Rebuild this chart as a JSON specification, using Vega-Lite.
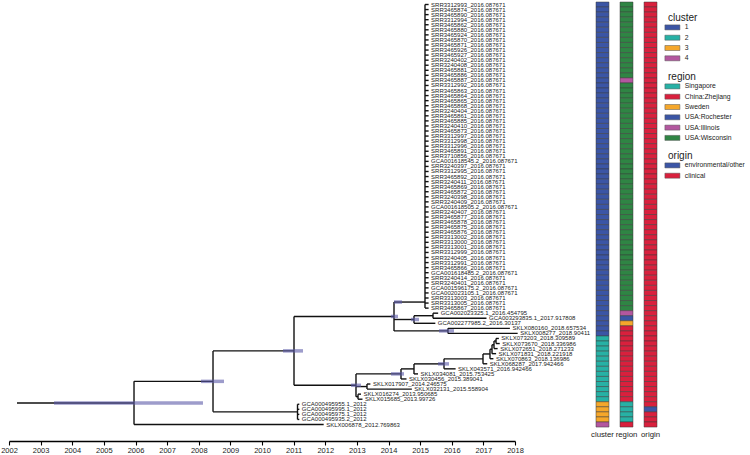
{
  "$schema": "https://vega.github.io/schema/vega-lite/v6.json",
  "padding": {"left": 0, "top": 0, "right": 0, "bottom": 0},
  "bounds": "flush",
  "spacing": 81,
  "config": {
    "font": "Liberation Sans",
    "view": {"stroke": null},
    "legend": {
      "orient": "none",
      "titleFontSize": 10,
      "titleFontWeight": "normal",
      "titleColor": "#222",
      "titlePadding": 1,
      "labelFontSize": 6.8,
      "labelColor": "#222",
      "symbolType": "M-3,-1H3V1H-3Z",
      "symbolSize": 25,
      "symbolOffset": 1,
      "symbolStrokeColor": "#555",
      "symbolStrokeWidth": 0.5,
      "rowPadding": 1.3,
      "labelOffset": 9,
      "padding": 0
    }
  },
  "datasets": {
    "tips": [
      {"y": 0, "label": "SRR3312993_2016.087671", "x": 2015.268, "px": 2015.154, "cluster": "1", "region": "USA:Wisconsin", "origin": "clinical"},
      {"y": 1, "label": "SRR3465874_2016.087671", "x": 2015.268, "px": 2015.154, "cluster": "1", "region": "USA:Wisconsin", "origin": "clinical"},
      {"y": 2, "label": "SRR3465890_2016.087671", "x": 2015.268, "px": 2015.154, "cluster": "1", "region": "USA:Wisconsin", "origin": "clinical"},
      {"y": 3, "label": "SRR3312994_2016.087671", "x": 2015.268, "px": 2015.154, "cluster": "1", "region": "USA:Wisconsin", "origin": "clinical"},
      {"y": 4, "label": "SRR3465862_2016.087671", "x": 2015.268, "px": 2015.154, "cluster": "1", "region": "USA:Wisconsin", "origin": "clinical"},
      {"y": 5, "label": "SRR3465880_2016.087671", "x": 2015.268, "px": 2015.154, "cluster": "1", "region": "USA:Wisconsin", "origin": "clinical"},
      {"y": 6, "label": "SRR3465924_2016.087671", "x": 2015.268, "px": 2015.154, "cluster": "1", "region": "USA:Wisconsin", "origin": "clinical"},
      {"y": 7, "label": "SRR3465870_2016.087671", "x": 2015.268, "px": 2015.154, "cluster": "1", "region": "USA:Wisconsin", "origin": "clinical"},
      {"y": 8, "label": "SRR3465871_2016.087671", "x": 2015.268, "px": 2015.154, "cluster": "1", "region": "USA:Wisconsin", "origin": "clinical"},
      {"y": 9, "label": "SRR3465926_2016.087671", "x": 2015.268, "px": 2015.154, "cluster": "1", "region": "USA:Wisconsin", "origin": "clinical"},
      {"y": 10, "label": "SRR3465927_2016.087671", "x": 2015.268, "px": 2015.154, "cluster": "1", "region": "USA:Wisconsin", "origin": "clinical"},
      {"y": 11, "label": "SRR3240402_2016.087671", "x": 2015.268, "px": 2015.154, "cluster": "1", "region": "USA:Wisconsin", "origin": "clinical"},
      {"y": 12, "label": "SRR3240408_2016.087671", "x": 2015.268, "px": 2015.154, "cluster": "1", "region": "USA:Wisconsin", "origin": "clinical"},
      {"y": 13, "label": "SRR3465881_2016.087671", "x": 2015.268, "px": 2015.154, "cluster": "1", "region": "USA:Wisconsin", "origin": "clinical"},
      {"y": 14, "label": "SRR3465886_2016.087671", "x": 2015.268, "px": 2015.154, "cluster": "1", "region": "USA:Wisconsin", "origin": "clinical"},
      {"y": 15, "label": "SRR3465887_2016.087671", "x": 2015.268, "px": 2015.154, "cluster": "1", "region": "USA:Illinois", "origin": "clinical"},
      {"y": 16, "label": "SRR3312992_2016.087671", "x": 2015.268, "px": 2015.154, "cluster": "1", "region": "USA:Wisconsin", "origin": "clinical"},
      {"y": 17, "label": "SRR3465863_2016.087671", "x": 2015.268, "px": 2015.154, "cluster": "1", "region": "USA:Wisconsin", "origin": "clinical"},
      {"y": 18, "label": "SRR3465864_2016.087671", "x": 2015.268, "px": 2015.154, "cluster": "1", "region": "USA:Wisconsin", "origin": "clinical"},
      {"y": 19, "label": "SRR3465865_2016.087671", "x": 2015.268, "px": 2015.154, "cluster": "1", "region": "USA:Wisconsin", "origin": "clinical"},
      {"y": 20, "label": "SRR3465868_2016.087671", "x": 2015.268, "px": 2015.154, "cluster": "1", "region": "USA:Wisconsin", "origin": "clinical"},
      {"y": 21, "label": "SRR3240404_2016.087671", "x": 2015.268, "px": 2015.154, "cluster": "1", "region": "USA:Wisconsin", "origin": "clinical"},
      {"y": 22, "label": "SRR3465861_2016.087671", "x": 2015.268, "px": 2015.154, "cluster": "1", "region": "USA:Wisconsin", "origin": "clinical"},
      {"y": 23, "label": "SRR3465885_2016.087671", "x": 2015.268, "px": 2015.154, "cluster": "1", "region": "USA:Wisconsin", "origin": "clinical"},
      {"y": 24, "label": "SRR3240410_2016.087671", "x": 2015.268, "px": 2015.154, "cluster": "1", "region": "USA:Wisconsin", "origin": "clinical"},
      {"y": 25, "label": "SRR3465873_2016.087671", "x": 2015.268, "px": 2015.154, "cluster": "1", "region": "USA:Wisconsin", "origin": "clinical"},
      {"y": 26, "label": "SRR3312997_2016.087671", "x": 2015.268, "px": 2015.154, "cluster": "1", "region": "USA:Wisconsin", "origin": "clinical"},
      {"y": 27, "label": "SRR3312998_2016.087671", "x": 2015.268, "px": 2015.154, "cluster": "1", "region": "USA:Wisconsin", "origin": "clinical"},
      {"y": 28, "label": "SRR3312996_2016.087671", "x": 2015.268, "px": 2015.154, "cluster": "1", "region": "USA:Wisconsin", "origin": "clinical"},
      {"y": 29, "label": "SRR3465891_2016.087671", "x": 2015.268, "px": 2015.154, "cluster": "1", "region": "USA:Wisconsin", "origin": "clinical"},
      {"y": 30, "label": "SRR3710856_2016.087671", "x": 2015.268, "px": 2015.154, "cluster": "1", "region": "USA:Wisconsin", "origin": "clinical"},
      {"y": 31, "label": "GCA001618545.2_2016.087671", "x": 2015.268, "px": 2015.154, "cluster": "1", "region": "USA:Wisconsin", "origin": "clinical"},
      {"y": 32, "label": "SRR3240397_2016.087671", "x": 2015.268, "px": 2015.154, "cluster": "1", "region": "USA:Wisconsin", "origin": "clinical"},
      {"y": 33, "label": "SRR3312995_2016.087671", "x": 2015.268, "px": 2015.154, "cluster": "1", "region": "USA:Wisconsin", "origin": "clinical"},
      {"y": 34, "label": "SRR3465892_2016.087671", "x": 2015.268, "px": 2015.154, "cluster": "1", "region": "USA:Wisconsin", "origin": "clinical"},
      {"y": 35, "label": "SRR3240411_2016.087671", "x": 2015.268, "px": 2015.154, "cluster": "1", "region": "USA:Wisconsin", "origin": "clinical"},
      {"y": 36, "label": "SRR3465869_2016.087671", "x": 2015.268, "px": 2015.154, "cluster": "1", "region": "USA:Wisconsin", "origin": "clinical"},
      {"y": 37, "label": "SRR3465872_2016.087671", "x": 2015.268, "px": 2015.154, "cluster": "1", "region": "USA:Wisconsin", "origin": "clinical"},
      {"y": 38, "label": "SRR3240398_2016.087671", "x": 2015.268, "px": 2015.154, "cluster": "1", "region": "USA:Wisconsin", "origin": "clinical"},
      {"y": 39, "label": "SRR3240409_2016.087671", "x": 2015.268, "px": 2015.154, "cluster": "1", "region": "USA:Wisconsin", "origin": "clinical"},
      {"y": 40, "label": "GCA001618505.2_2016.087671", "x": 2015.268, "px": 2015.154, "cluster": "1", "region": "USA:Wisconsin", "origin": "clinical"},
      {"y": 41, "label": "SRR3240407_2016.087671", "x": 2015.268, "px": 2015.154, "cluster": "1", "region": "USA:Wisconsin", "origin": "clinical"},
      {"y": 42, "label": "SRR3465877_2016.087671", "x": 2015.268, "px": 2015.154, "cluster": "1", "region": "USA:Wisconsin", "origin": "clinical"},
      {"y": 43, "label": "SRR3465878_2016.087671", "x": 2015.268, "px": 2015.154, "cluster": "1", "region": "USA:Wisconsin", "origin": "clinical"},
      {"y": 44, "label": "SRR3465875_2016.087671", "x": 2015.268, "px": 2015.154, "cluster": "1", "region": "USA:Wisconsin", "origin": "clinical"},
      {"y": 45, "label": "SRR3465876_2016.087671", "x": 2015.268, "px": 2015.154, "cluster": "1", "region": "USA:Wisconsin", "origin": "clinical"},
      {"y": 46, "label": "SRR3313002_2016.087671", "x": 2015.268, "px": 2015.154, "cluster": "1", "region": "USA:Wisconsin", "origin": "clinical"},
      {"y": 47, "label": "SRR3313000_2016.087671", "x": 2015.268, "px": 2015.154, "cluster": "1", "region": "USA:Wisconsin", "origin": "clinical"},
      {"y": 48, "label": "SRR3313001_2016.087671", "x": 2015.268, "px": 2015.154, "cluster": "1", "region": "USA:Wisconsin", "origin": "clinical"},
      {"y": 49, "label": "SRR3312999_2016.087671", "x": 2015.268, "px": 2015.154, "cluster": "1", "region": "USA:Wisconsin", "origin": "clinical"},
      {"y": 50, "label": "SRR3240405_2016.087671", "x": 2015.268, "px": 2015.154, "cluster": "1", "region": "USA:Wisconsin", "origin": "clinical"},
      {"y": 51, "label": "SRR3312991_2016.087671", "x": 2015.268, "px": 2015.154, "cluster": "1", "region": "USA:Wisconsin", "origin": "clinical"},
      {"y": 52, "label": "SRR3465866_2016.087671", "x": 2015.268, "px": 2015.154, "cluster": "1", "region": "USA:Wisconsin", "origin": "clinical"},
      {"y": 53, "label": "GCA001618485.2_2016.087671", "x": 2015.268, "px": 2015.154, "cluster": "1", "region": "USA:Wisconsin", "origin": "clinical"},
      {"y": 54, "label": "SRR3240414_2016.087671", "x": 2015.268, "px": 2015.154, "cluster": "1", "region": "USA:Wisconsin", "origin": "clinical"},
      {"y": 55, "label": "SRR3240401_2016.087671", "x": 2015.268, "px": 2015.154, "cluster": "1", "region": "USA:Wisconsin", "origin": "clinical"},
      {"y": 56, "label": "GCA001596175.2_2016.087671", "x": 2015.268, "px": 2015.154, "cluster": "1", "region": "USA:Wisconsin", "origin": "clinical"},
      {"y": 57, "label": "GCA002023105.1_2016.087671", "x": 2015.268, "px": 2015.154, "cluster": "1", "region": "USA:Wisconsin", "origin": "clinical"},
      {"y": 58, "label": "SRR3313003_2016.087671", "x": 2015.268, "px": 2015.154, "cluster": "1", "region": "USA:Wisconsin", "origin": "clinical"},
      {"y": 59, "label": "SRR3313005_2016.087671", "x": 2015.268, "px": 2015.154, "cluster": "1", "region": "USA:Wisconsin", "origin": "clinical"},
      {"y": 60, "label": "SRR3465867_2016.087671", "x": 2015.268, "px": 2015.154, "cluster": "1", "region": "USA:Wisconsin", "origin": "clinical"},
      {"y": 61, "label": "GCA002023325.1_2016.454795", "x": 2015.57, "px": 2015.407, "cluster": "1", "region": "USA:Illinois", "origin": "clinical"},
      {"y": 62, "label": "GCA003293835.1_2017.917808", "x": 2017.098, "px": 2015.407, "cluster": "1", "region": "USA:Rochester", "origin": "clinical"},
      {"y": 63, "label": "GCA002277985.2_2016.30137", "x": 2015.481, "px": 2014.806, "cluster": "1", "region": "Sweden", "origin": "clinical"},
      {"y": 64, "label": "SKLX080160_2018.657534", "x": 2017.838, "px": 2015.881, "cluster": "1", "region": "China:Zhejiang", "origin": "clinical"},
      {"y": 65, "label": "SKLX008277_2018.90411", "x": 2018.084, "px": 2015.881, "cluster": "1", "region": "China:Zhejiang", "origin": "clinical"},
      {"y": 66, "label": "SKLX073203_2018.309589", "x": 2017.49, "px": 2017.4, "cluster": "2", "region": "China:Zhejiang", "origin": "clinical"},
      {"y": 67, "label": "SKLX073670_2018.336986", "x": 2017.517, "px": 2017.4, "cluster": "2", "region": "China:Zhejiang", "origin": "clinical"},
      {"y": 68, "label": "SKLX072651_2018.271233", "x": 2017.451, "px": 2017.336, "cluster": "2", "region": "China:Zhejiang", "origin": "clinical"},
      {"y": 69, "label": "SKLX071831_2018.221918", "x": 2017.402, "px": 2017.273, "cluster": "2", "region": "China:Zhejiang", "origin": "clinical"},
      {"y": 70, "label": "SKLX070863_2018.136986", "x": 2017.317, "px": 2017.209, "cluster": "2", "region": "China:Zhejiang", "origin": "clinical"},
      {"y": 71, "label": "SKLX068287_2017.942466", "x": 2017.122, "px": 2016.988, "cluster": "2", "region": "China:Zhejiang", "origin": "clinical"},
      {"y": 72, "label": "SKLX043571_2016.942466", "x": 2016.122, "px": 2015.755, "cluster": "2", "region": "China:Zhejiang", "origin": "clinical"},
      {"y": 73, "label": "SKLX034081_2015.753425", "x": 2014.933, "px": 2014.806, "cluster": "2", "region": "China:Zhejiang", "origin": "clinical"},
      {"y": 74, "label": "SKLX030456_2015.389041", "x": 2014.569, "px": 2014.395, "cluster": "2", "region": "China:Zhejiang", "origin": "clinical"},
      {"y": 75, "label": "SKLX017907_2014.246575", "x": 2013.427, "px": 2013.32, "cluster": "2", "region": "China:Zhejiang", "origin": "clinical"},
      {"y": 76, "label": "SKLX032131_2015.558904", "x": 2014.739, "px": 2013.32, "cluster": "2", "region": "China:Zhejiang", "origin": "clinical"},
      {"y": 77, "label": "SKLX016274_2013.950685", "x": 2013.131, "px": 2013.036, "cluster": "2", "region": "China:Zhejiang", "origin": "clinical"},
      {"y": 78, "label": "SKLX015685_2013.99726", "x": 2013.177, "px": 2013.036, "cluster": "2", "region": "China:Zhejiang", "origin": "clinical"},
      {"y": 79, "label": "GCA000495955.1_2012", "x": 2011.18, "px": 2011.123, "cluster": "3", "region": "Singapore", "origin": "clinical"},
      {"y": 80, "label": "GCA000495995.1_2012", "x": 2011.18, "px": 2011.123, "cluster": "3", "region": "Singapore", "origin": "environmental/other"},
      {"y": 81, "label": "GCA000495975.1_2012", "x": 2011.18, "px": 2011.123, "cluster": "3", "region": "Singapore", "origin": "clinical"},
      {"y": 82, "label": "GCA000495935.2_2012", "x": 2011.18, "px": 2011.123, "cluster": "3", "region": "Singapore", "origin": "clinical"},
      {"y": 83, "label": "SKLX006878_2012.769863", "x": 2011.95, "px": 2005.953, "cluster": "4", "region": "China:Zhejiang", "origin": "clinical"}
    ],
    "edges": [
      {"x": 2002.253, "x2": 2005.953, "y": 78.74, "y2": 78.74},
      {"x": 2005.953, "x2": 2005.953, "y": 74.475, "y2": 83},
      {"x": 2005.953, "x2": 2008.451, "y": 74.475, "y2": 74.475},
      {"x": 2008.451, "x2": 2008.451, "y": 68.45, "y2": 80.5},
      {"x": 2008.451, "x2": 2011.012, "y": 68.45, "y2": 68.45},
      {"x": 2008.451, "x2": 2011.123, "y": 80.5, "y2": 80.5},
      {"x": 2011.123, "x2": 2011.123, "y": 79, "y2": 82},
      {"x": 2011.012, "x2": 2011.012, "y": 61.65, "y2": 75.25},
      {"x": 2011.012, "x2": 2014.174, "y": 61.65, "y2": 61.65},
      {"x": 2011.012, "x2": 2012.972, "y": 75.25, "y2": 75.25},
      {"x": 2014.174, "x2": 2014.174, "y": 58.8, "y2": 64.5},
      {"x": 2014.174, "x2": 2015.154, "y": 58.8, "y2": 58.8},
      {"x": 2014.174, "x2": 2014.806, "y": 62.25, "y2": 62.25},
      {"x": 2014.174, "x2": 2015.881, "y": 64.5, "y2": 64.5},
      {"x": 2015.154, "x2": 2015.154, "y": 0, "y2": 60},
      {"x": 2014.806, "x2": 2014.806, "y": 61.5, "y2": 63},
      {"x": 2014.806, "x2": 2015.407, "y": 61.5, "y2": 61.5},
      {"x": 2015.407, "x2": 2015.407, "y": 61, "y2": 62},
      {"x": 2015.881, "x2": 2015.881, "y": 64, "y2": 65},
      {"x": 2012.972, "x2": 2012.972, "y": 73, "y2": 77.5},
      {"x": 2012.972, "x2": 2014.395, "y": 73, "y2": 73},
      {"x": 2012.972, "x2": 2013.32, "y": 75.5, "y2": 75.5},
      {"x": 2012.972, "x2": 2013.036, "y": 77.5, "y2": 77.5},
      {"x": 2014.395, "x2": 2014.395, "y": 72.01, "y2": 74},
      {"x": 2014.395, "x2": 2014.806, "y": 72.01, "y2": 72.01},
      {"x": 2014.806, "x2": 2014.806, "y": 71.02, "y2": 73},
      {"x": 2014.806, "x2": 2015.755, "y": 71.02, "y2": 71.02},
      {"x": 2015.755, "x2": 2015.755, "y": 70.03, "y2": 72},
      {"x": 2015.755, "x2": 2016.988, "y": 70.03, "y2": 70.03},
      {"x": 2016.988, "x2": 2016.988, "y": 69.06, "y2": 71},
      {"x": 2016.988, "x2": 2017.209, "y": 69.06, "y2": 69.06},
      {"x": 2017.209, "x2": 2017.209, "y": 68.125, "y2": 70},
      {"x": 2017.209, "x2": 2017.273, "y": 68.125, "y2": 68.125},
      {"x": 2017.273, "x2": 2017.273, "y": 67.25, "y2": 69},
      {"x": 2017.273, "x2": 2017.336, "y": 67.25, "y2": 67.25},
      {"x": 2017.336, "x2": 2017.336, "y": 66.5, "y2": 68},
      {"x": 2017.336, "x2": 2017.4, "y": 66.5, "y2": 66.5},
      {"x": 2017.4, "x2": 2017.4, "y": 66, "y2": 67},
      {"x": 2013.32, "x2": 2013.32, "y": 75, "y2": 76},
      {"x": 2013.036, "x2": 2013.036, "y": 77, "y2": 78}
    ],
    "hpd": [
      {"x": 2003.423, "x2": 2008.134, "y": 78.74},
      {"x": 2008.071, "x2": 2008.798, "y": 74.475},
      {"x": 2010.664, "x2": 2011.296, "y": 68.45},
      {"x": 2014.079, "x2": 2014.3, "y": 61.65},
      {"x": 2014.174, "x2": 2014.427, "y": 58.8},
      {"x": 2014.712, "x2": 2014.964, "y": 62.25},
      {"x": 2015.597, "x2": 2016.071, "y": 64.5},
      {"x": 2012.814, "x2": 2013.13, "y": 75.25},
      {"x": 2014.079, "x2": 2014.49, "y": 73},
      {"x": 2015.565, "x2": 2015.913, "y": 71.02}
    ]
  },
  "hconcat": [
    {
      "width": 506,
      "height": 441,
      "encoding": {
        "x": {"field": "x", "type": "quantitative", "title": null,
          "scale": {"domain": [2002, 2018], "nice": false, "zero": false},
          "axis": {"values": [2002, 2003, 2004, 2005, 2006, 2007, 2008, 2009, 2010, 2011, 2012, 2013, 2014, 2015, 2016, 2017, 2018],
            "format": "d", "labelFontSize": 7.5, "labelColor": "#222", "domainColor": "#000", "domainWidth": 1.5,
            "tickColor": "#000", "tickWidth": 1.1, "tickSize": 4, "labelPadding": 1.5, "grid": false,
            "labelFlush": false, "labelOverlap": false, "labelBound": false, "title": null}},
        "y": {"field": "y", "type": "quantitative", "title": null,
          "scale": {"domain": [-0.89, 86.26], "reverse": true, "nice": false, "zero": false}, "axis": null}
      },
      "layer": [
        {
          "data": {"name": "edges"},
          "mark": {"type": "rule", "color": "#111", "strokeWidth": 1.4},
          "encoding": {"x2": {"field": "x2"}, "y2": {"field": "y2"}}
        },
        {
          "data": {"name": "tips"},
          "mark": {"type": "rule", "color": "#111", "strokeWidth": 1.4},
          "encoding": {"x2": {"field": "px"}}
        },
        {
          "data": {"name": "hpd"},
          "mark": {"type": "rule", "color": "#5b5aa8", "opacity": 0.6, "strokeWidth": 3.5},
          "encoding": {"x2": {"field": "x2"}}
        },
        {
          "data": {"name": "tips"},
          "mark": {"type": "text", "align": "left", "baseline": "middle", "dx": 2.5, "fontSize": 6, "fill": "#222"},
          "encoding": {"text": {"field": "label"}}
        }
      ]
    },
    {
      "width": 61,
      "height": 428,
      "data": {"name": "tips"},
      "encoding": {
        "y": {"field": "y", "type": "ordinal", "title": null,
          "scale": {"paddingInner": 0, "paddingOuter": 0.2925, "align": 0.676}, "axis": null}
      },
      "layer": [
        {
          "mark": {"type": "rect", "stroke": "#3a3a3a", "strokeWidth": 0.5},
          "encoding": {
            "x": {"datum": "cluster", "type": "nominal", "title": null,
              "scale": {"domain": ["cluster", "region", "origin"], "paddingInner": 0.46, "paddingOuter": 0},
              "axis": {"orient": "bottom", "domain": false, "ticks": false, "labelPadding": 2, "labelFontSize": 7.8, "labelColor": "#222", "labelAngle": 0, "title": null}},
            "color": {"field": "cluster", "type": "nominal", "title": "cluster",
              "scale": {"domain": ["1", "2", "3", "4"], "range": ["#3b55a5", "#27b1a5", "#f5a72b", "#b3579f"]},
              "legend": {"legendX": 72, "legendY": 13}}
          }
        },
        {
          "mark": {"type": "rect", "stroke": "#3a3a3a", "strokeWidth": 0.5},
          "encoding": {
            "x": {"datum": "region", "type": "nominal", "title": null},
            "color": {"field": "region", "type": "nominal", "title": "region",
              "scale": {"domain": ["Singapore", "China:Zhejiang", "Sweden", "USA:Rochester", "USA:Illinois", "USA:Wisconsin"],
                "range": ["#27b1a5", "#d9203d", "#f5a72b", "#3b55a5", "#b3579f", "#2f8544"]},
              "legend": {"legendX": 72, "legendY": 72}}
          }
        },
        {
          "mark": {"type": "rect", "stroke": "#3a3a3a", "strokeWidth": 0.5},
          "encoding": {
            "x": {"datum": "origin", "type": "nominal", "title": null},
            "color": {"field": "origin", "type": "nominal", "title": "origin",
              "scale": {"domain": ["environmental/other", "clinical"], "range": ["#3b55a5", "#d9203d"]},
              "legend": {"legendX": 72, "legendY": 151}}
          }
        }
      ],
      "resolve": {"scale": {"color": "independent"}, "legend": {"color": "independent"}}
    }
  ]
}
